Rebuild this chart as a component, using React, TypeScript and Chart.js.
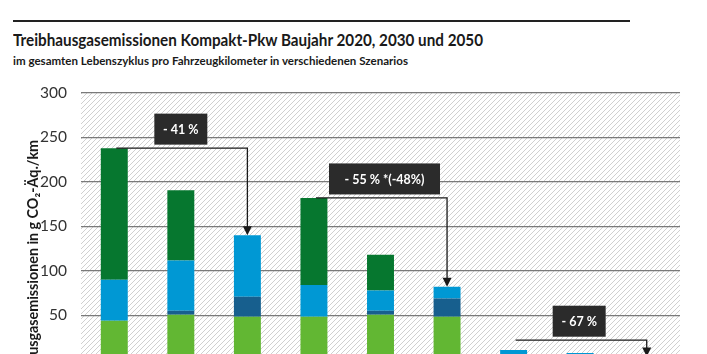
import React, { useEffect, useRef } from "react";
import { Chart, registerables } from "chart.js";

Chart.register(...registerables);

// Categories (x-axis labels are cut off in the reference; kept for structure)
const categories = [
  "Benzin 2020", "Plug-in-Hybrid 2020", "Elektro 2020",
  "Benzin 2030", "Plug-in-Hybrid 2030", "Elektro 2030",
  "Benzin 2050", "Plug-in-Hybrid 2050", "Elektro 2050",
];

// Stacked components (g CO2-Äq./km)
const fahrzeugherstellung = [44, 50.5, 48.5, 48.5, 50.5, 48.5, 4, 3.5, 2];
const batterieherstellung = [0, 4.5, 22.5, 0, 4.5, 20.5, 0, 0.5, 1];
const energiebereitstellung = [46, 56.5, 69, 35.5, 23, 13, 7, 3.7, 0.6];
const direkteEmissionen = [148, 79, 0, 98, 40, 0, 0, 0, 0];

const seriesNames = ["Fahrzeugherstellung", "Batterieherstellung", "Energiebereitstellung", "Direkte Emissionen"];
const seriesColors = ["#62b733", "#175f8e", "#0098d4", "#06772f"];

// Y axis
const yMin = -100;
const yMax = 300;
const yStep = 50;

// Reduction annotations: from bar index, to bar index, bracket level (value), label
const reductionFrom = [0, 3, 6];
const reductionTo = [2, 5, 8];
const reductionLevel = [238, 182, 22];
const reductionLabels = ["- 41 %", "- 55 % *(-48%)", "- 67 %"];
const reductionBoxWidths = [53, 111, 53];
const reductionBoxShift = [0, 4, -1];

const title = "Treibhausgasemissionen Kompakt-Pkw Baujahr 2020, 2030 und 2050";
const subtitle = "im gesamten Lebenszyklus pro Fahrzeugkilometer in verschiedenen Szenarios";
const yTitle = "Treibhausgasemissionen in g CO\u2082-Äq./km";

function makeHatch(ctx: CanvasRenderingContext2D) {
  const c = document.createElement("canvas");
  const s = 5;
  c.width = s;
  c.height = s;
  const g = c.getContext("2d")!;
  g.fillStyle = "#ffffff";
  g.fillRect(0, 0, s, s);
  g.strokeStyle = "#d0d0d0";
  g.lineWidth = 1;
  g.beginPath();
  g.moveTo(-1, s + 1);
  g.lineTo(s + 1, -1);
  g.moveTo(-1, 1);
  g.lineTo(1, -1);
  g.moveTo(s - 1, s + 1);
  g.lineTo(s + 1, s - 1);
  g.stroke();
  return ctx.createPattern(c, "repeat");
}

const hatchPlugin = {
  id: "hatchBg",
  beforeDraw(chart: any) {
    const { ctx, chartArea } = chart;
    if (!chartArea) return;
    ctx.save();
    const p = makeHatch(ctx);
    ctx.fillStyle = p || "#eeeeee";
    ctx.fillRect(chartArea.left, chartArea.top, chartArea.right - chartArea.left, chartArea.bottom - chartArea.top);
    ctx.restore();
  },
};

const annotationPlugin = {
  id: "reductions",
  afterDatasetsDraw(chart: any) {
    const { ctx } = chart;
    const xs = chart.scales.x;
    const ys = chart.scales.y;
    const totals = categories.map(
      (_, i) => fahrzeugherstellung[i] + batterieherstellung[i] + energiebereitstellung[i] + direkteEmissionen[i]
    );
    ctx.save();
    for (let k = 0; k < reductionFrom.length; k++) {
      const x1 = xs.getPixelForValue(reductionFrom[k]);
      const x2 = xs.getPixelForValue(reductionTo[k]);
      const yl = ys.getPixelForValue(reductionLevel[k]);
      const yt = ys.getPixelForValue(totals[reductionTo[k]]);
      ctx.strokeStyle = "#1a1a1a";
      ctx.fillStyle = "#1a1a1a";
      ctx.lineWidth = 1.3;
      ctx.beginPath();
      ctx.moveTo(x1 + 2, yl);
      ctx.lineTo(x2, yl);
      ctx.lineTo(x2, yt - 7);
      ctx.stroke();
      ctx.beginPath();
      ctx.moveTo(x2 - 4.5, yt - 9);
      ctx.lineTo(x2 + 4.5, yt - 9);
      ctx.lineTo(x2, yt);
      ctx.closePath();
      ctx.fill();

      const bw = reductionBoxWidths[k];
      const bh = 31;
      const cx = (x1 + x2) / 2 + reductionBoxShift[k];
      const by = yl - 3.5 - bh;
      ctx.fillStyle = "#2b2b2b";
      ctx.fillRect(cx - bw / 2, by, bw, bh);
      ctx.font = "bold 12.5px Lato";
      ctx.fillStyle = "#ffffff";
      ctx.textAlign = "center";
      ctx.textBaseline = "middle";
      ctx.fillText(reductionLabels[k], cx, by + bh / 2 + 1);
    }
    ctx.restore();
  },
};

function FitText(props: { text: string; width: number; style: React.CSSProperties }) {
  const ref = useRef<HTMLSpanElement | null>(null);
  useEffect(() => {
    const el = ref.current;
    if (!el) return;
    el.style.transform = "none";
    const w = el.getBoundingClientRect().width;
    if (w > 0) el.style.transform = `scaleX(${props.width / w})`;
  }, [props.text, props.width]);
  return (
    <span
      ref={ref}
      style={{ ...props.style, display: "inline-block", whiteSpace: "nowrap", transformOrigin: "0 0", position: "absolute" }}
    >
      {props.text}
    </span>
  );
}

export default function App() {
  const ref = useRef<HTMLCanvasElement | null>(null);

  useEffect(() => {
    if (!ref.current) return;
    const series = [fahrzeugherstellung, batterieherstellung, energiebereitstellung, direkteEmissionen];
    const chart = new Chart(ref.current, {
      type: "bar",
      data: {
        labels: categories,
        datasets: series.map((d, i) => ({
          label: seriesNames[i],
          data: d,
          backgroundColor: seriesColors[i],
          borderWidth: 0,
          barPercentage: 0.405,
          categoryPercentage: 1,
        })),
      },
      options: {
        responsive: false,
        animation: false,
        events: [],
        layout: { padding: { top: 93, left: 0, right: 27, bottom: 12.6 } },
        plugins: {
          legend: { display: false },
          tooltip: { enabled: false },
          title: { display: false },
        },
        scales: {
          x: {
            stacked: true,
            display: false,
          },
          y: {
            stacked: true,
            min: yMin,
            max: yMax,
            afterFit: (s: any) => {
              s.width = 81;
            },
            ticks: {
              stepSize: yStep,
              padding: 14,
              color: "#333333",
              font: { family: "Lato", size: 15.5 },
            },
            grid: {
              color: "#7a7a7a",
              lineWidth: 1.3,
              drawTicks: false,
            },
            border: { display: false },
            title: {
              display: true,
              text: yTitle,
              color: "#1a1a1a",
              font: { family: "Lato", size: 14.3, weight: "bold" },
              padding: { top: 25, bottom: 0 },
            },
          },
        },
      },
      plugins: [hatchPlugin, annotationPlugin],
    });
    return () => chart.destroy();
  }, []);

  return (
    <div style={{ position: "absolute", left: 0, top: 0, width: 707, height: 472, background: "#fff", overflow: "hidden" }}>
      <div style={{ position: "absolute", left: 13, top: 20, width: 617, height: 2, background: "#222" }} />
      <div style={{ position: "absolute", left: 13, top: 31 }}>
        <FitText
          text={title}
          width={470}
          style={{ fontFamily: "Lato, sans-serif", fontWeight: "bold", fontSize: 17, lineHeight: "17px", color: "#1a1a1a" }}
        />
      </div>
      <div style={{ position: "absolute", left: 13, top: 55 }}>
        <FitText
          text={subtitle}
          width={395}
          style={{ fontFamily: "Lato, sans-serif", fontWeight: "bold", fontSize: 12, lineHeight: "12px", color: "#1a1a1a" }}
        />
      </div>
      <canvas ref={ref} width={707} height={472} style={{ position: "absolute", left: 0, top: 0 }} />
    </div>
  );
}
